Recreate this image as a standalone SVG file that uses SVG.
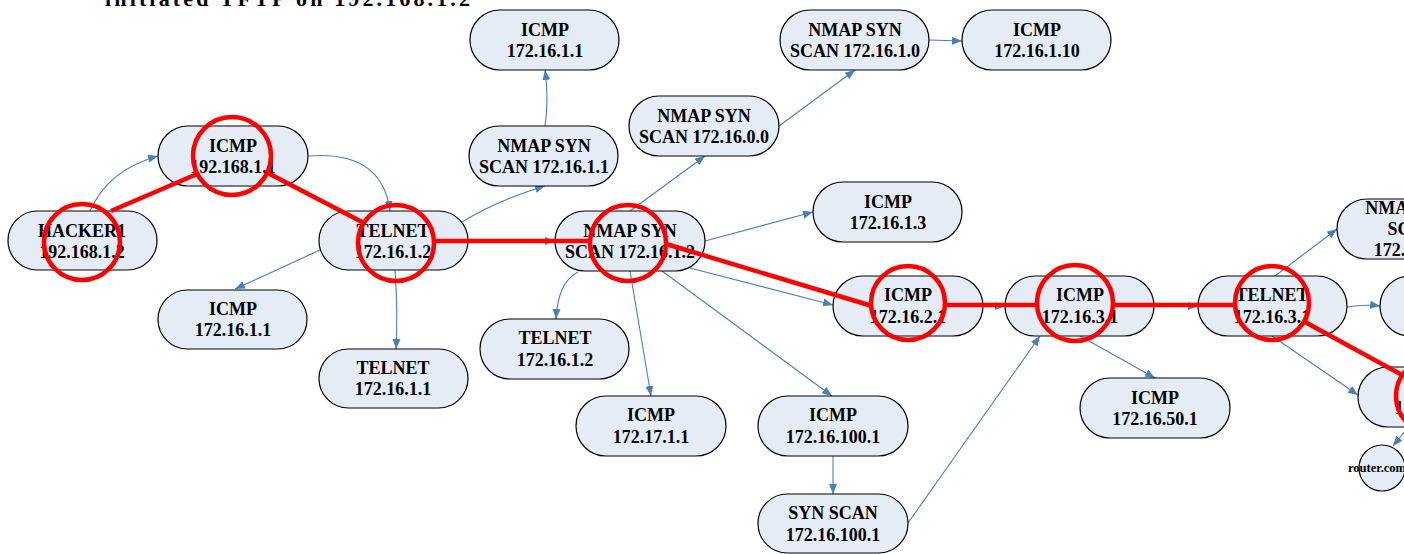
<svg xmlns="http://www.w3.org/2000/svg" width="1404" height="554" viewBox="0 0 1404 554">
<style>
.n{fill:#e6ecf6;stroke:#000;stroke-width:1.2}
.t{font-family:"Liberation Serif",serif;font-weight:bold;font-size:18px;fill:#000;text-anchor:middle}
.e{fill:none;stroke:#4a7ebb;stroke-width:1.1;marker-end:url(#a)}
.r{fill:none;stroke:#ff0000;stroke-width:4.5}
</style>
<defs>
<marker id="a" viewBox="0 0 10 10" refX="10" refY="5" markerWidth="10" markerHeight="10" markerUnits="userSpaceOnUse" orient="auto">
<path d="M0,1 L10,5 L0,9 Z" fill="#4a7ebb"/>
</marker>
</defs>
<rect width="1404" height="554" fill="#fff"/>
<text x="105" y="6" font-family="Liberation Serif,serif" font-weight="bold" font-size="22" textLength="365" lengthAdjust="spacing" fill="#000">initiated TFTP on 192.168.1.2</text>

<g id="edges">
<path class="e" d="M90,211 Q108,170 158,156"/>
<path class="e" d="M308,156 Q382,150 390,211"/>
<path class="e" d="M320,250 L235,289"/>
<path class="e" d="M395,270 Q398,310 396,349"/>
<path class="e" d="M462,222 Q498,200 545,186"/>
<path class="e" d="M545,126 Q549,100 545,70"/>
<path class="e" d="M468,241 L555,241"/>
<path class="e" d="M630,211 L705,156"/>
<path class="e" d="M779,126 L855,70"/>
<path class="e" d="M929,40 L962,41"/>
<path class="e" d="M705,241 L813,212"/>
<path class="e" d="M578,272 Q558,282 556,319"/>
<path class="e" d="M630,271 L651,396"/>
<path class="e" d="M662,271 L832,396"/>
<path class="e" d="M690,268 L833,305"/>
<path class="e" d="M833,456 L833,494"/>
<path class="e" d="M908,523 L1040,336"/>
<path class="e" d="M983,306 L1005,306"/>
<path class="e" d="M1080,336 L1155,378"/>
<path class="e" d="M1154,306 L1198,306"/>
<path class="e" d="M1275,276 L1337,229"/>
<path class="e" d="M1347,307 Q1365,304 1380,306"/>
<path class="e" d="M1272,336 L1358,395"/>
<path class="e" d="M1406,430 L1393,446"/>
</g>

<g id="n1"><rect class="n" x="8" y="211" width="149" height="59" rx="29.5"/><text class="t" x="82" y="237">HACKER1</text><text class="t" x="82" y="258">192.168.1.2</text></g>
<g id="n2"><rect class="n" x="158" y="126" width="150" height="60" rx="30"/><text class="t" x="233" y="152">ICMP</text><text class="t" x="233" y="173">192.168.1.1</text></g>
<g id="n3"><rect class="n" x="319" y="211" width="149" height="59" rx="29.5"/><text class="t" x="393" y="237">TELNET</text><text class="t" x="393" y="258">172.16.1.2</text></g>
<g id="n4"><rect class="n" x="158" y="290" width="149" height="59" rx="29.5"/><text class="t" x="233" y="315">ICMP</text><text class="t" x="233" y="336">172.16.1.1</text></g>
<g id="n5"><rect class="n" x="319" y="349" width="149" height="59" rx="29.5"/><text class="t" x="393" y="374">TELNET</text><text class="t" x="393" y="395">172.16.1.1</text></g>
<g id="n6"><rect class="n" x="470" y="10" width="149" height="60" rx="30"/><text class="t" x="545" y="36">ICMP</text><text class="t" x="545" y="57">172.16.1.1</text></g>
<g id="n7"><rect class="n" x="469" y="126" width="149" height="60" rx="30"/><text class="t" x="544" y="152">NMAP SYN</text><text class="t" x="544" y="173">SCAN 172.16.1.1</text></g>
<g id="n8"><rect class="n" x="629" y="96" width="150" height="60" rx="30"/><text class="t" x="704" y="122">NMAP SYN</text><text class="t" x="704" y="143">SCAN 172.16.0.0</text></g>
<g id="n9"><rect class="n" x="780" y="10" width="149" height="60" rx="30"/><text class="t" x="855" y="36">NMAP SYN</text><text class="t" x="855" y="57">SCAN 172.16.1.0</text></g>
<g id="n10"><rect class="n" x="962" y="10" width="149" height="60" rx="30"/><text class="t" x="1037" y="36">ICMP</text><text class="t" x="1037" y="57">172.16.1.10</text></g>
<g id="n11"><rect class="n" x="555" y="211" width="150" height="60" rx="30"/><text class="t" x="630" y="237">NMAP SYN</text><text class="t" x="630" y="258">SCAN 172.16.1.2</text></g>
<g id="n12"><rect class="n" x="813" y="182" width="149" height="60" rx="30"/><text class="t" x="888" y="208">ICMP</text><text class="t" x="888" y="229">172.16.1.3</text></g>
<g id="n13"><rect class="n" x="480" y="319" width="149" height="60" rx="30"/><text class="t" x="555" y="344">TELNET</text><text class="t" x="555" y="366">172.16.1.2</text></g>
<g id="n14"><rect class="n" x="576" y="396" width="150" height="60" rx="30"/><text class="t" x="651" y="421">ICMP</text><text class="t" x="651" y="443">172.17.1.1</text></g>
<g id="n15"><rect class="n" x="758" y="396" width="150" height="60" rx="30"/><text class="t" x="833" y="421">ICMP</text><text class="t" x="833" y="443">172.16.100.1</text></g>
<g id="n16"><rect class="n" x="758" y="494" width="150" height="59" rx="29.5"/><text class="t" x="833" y="519">SYN SCAN</text><text class="t" x="833" y="541">172.16.100.1</text></g>
<g id="n17"><rect class="n" x="833" y="276" width="150" height="60" rx="30"/><text class="t" x="908" y="301">ICMP</text><text class="t" x="908" y="323">172.16.2.1</text></g>
<g id="n18"><rect class="n" x="1005" y="276" width="149" height="60" rx="30"/><text class="t" x="1080" y="301">ICMP</text><text class="t" x="1080" y="323">172.16.3.1</text></g>
<g id="n19"><rect class="n" x="1080" y="378" width="150" height="60" rx="30"/><text class="t" x="1155" y="404">ICMP</text><text class="t" x="1155" y="425">172.16.50.1</text></g>
<g id="n20"><rect class="n" x="1198" y="276" width="149" height="60" rx="30"/><text class="t" x="1272" y="301">TELNET</text><text class="t" x="1272" y="323">172.16.3.1</text></g>
<g id="n21"><rect class="n" x="1337" y="199" width="150" height="60" rx="30"/><text class="t" x="1412" y="214">NMAP SYN</text><text class="t" x="1412" y="235">SCAN</text><text class="t" x="1412" y="256">172.16.3.0</text></g>
<g id="n22"><rect class="n" x="1380" y="276" width="150" height="60" rx="30"/></g>
<g id="n23"><rect class="n" x="1358" y="367" width="150" height="60" rx="30"/><text class="t" x="1433" y="392">ICMP</text><text class="t" x="1433" y="414">172.16.3.2</text></g>
<g id="n24"><circle class="n" cx="1382" cy="468" r="23"/><text x="1348" y="472" font-family="Liberation Serif,serif" font-weight="bold" font-size="12.5" fill="#000">router.com</text></g>

<g id="highlight">
<line class="r" x1="111" y1="211" x2="197" y2="174"/>
<line class="r" x1="266" y1="172" x2="362" y2="222"/>
<line class="r" x1="434" y1="241" x2="590" y2="241"/>
<line class="r" x1="666" y1="244" x2="872" y2="306"/>
<line class="r" x1="945" y1="305" x2="1037" y2="305"/>
<line class="r" x1="1113" y1="305" x2="1235" y2="305"/>
<line class="r" x1="1305" y1="322" x2="1404" y2="376"/>
<circle class="r" cx="82" cy="242" r="38"/>
<circle class="r" cx="232" cy="156" r="39"/>
<circle class="r" cx="396" cy="243" r="38"/>
<circle class="r" cx="628" cy="243" r="38"/>
<circle class="r" cx="908" cy="303" r="37"/>
<circle class="r" cx="1075" cy="303" r="38"/>
<circle class="r" cx="1272" cy="303" r="37"/>
<circle class="r" cx="1434" cy="396" r="38"/>
</g>
</svg>
